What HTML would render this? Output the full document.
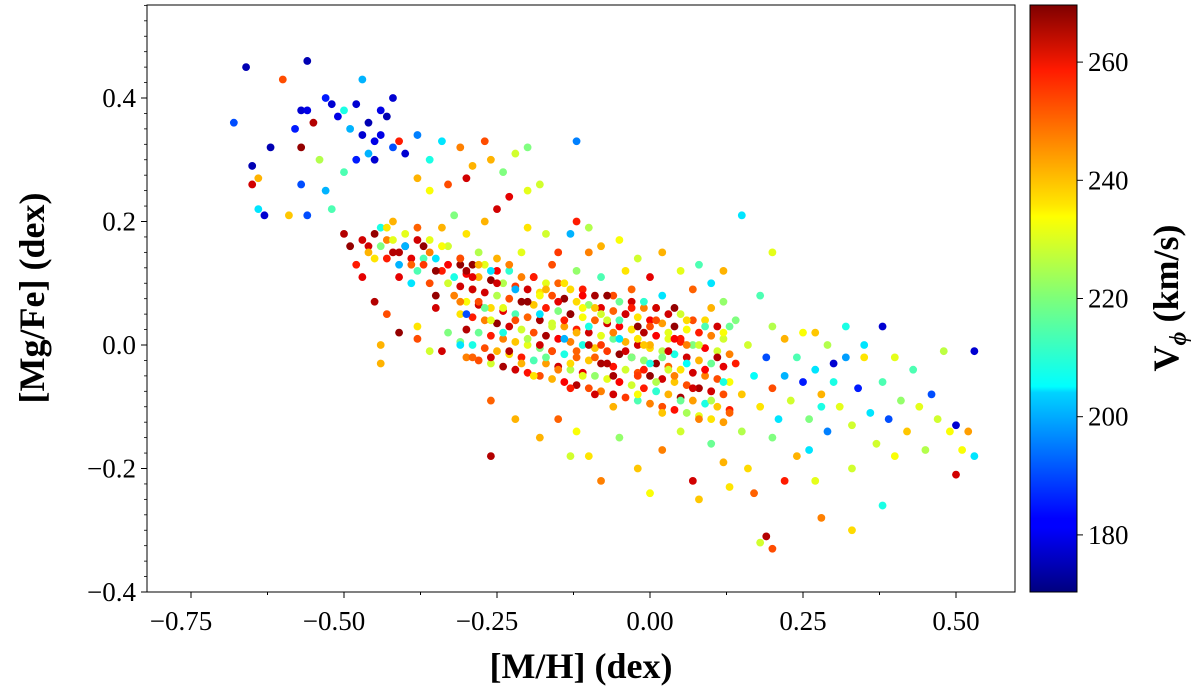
<!DOCTYPE html>
<html><head><meta charset="utf-8"><style>
body{margin:0;background:#fff}
svg{display:block;font-family:"Liberation Serif",serif}
</style></head><body>
<svg id="chart" width="1200" height="692" viewBox="0 0 1200 692" xmlns="http://www.w3.org/2000/svg">
<defs><linearGradient id="jet" x1="0" y1="1" x2="0" y2="0">
<stop offset="0" stop-color="#00007f"/><stop offset="0.11" stop-color="#0000ff"/><stop offset="0.125" stop-color="#0000ff"/><stop offset="0.34" stop-color="#00d4ff"/><stop offset="0.35" stop-color="#0ff"/><stop offset="0.5" stop-color="#7dff7a"/><stop offset="0.64" stop-color="#ff0"/><stop offset="0.66" stop-color="#ffe600"/><stop offset="0.89" stop-color="#ff1a00"/><stop offset="1" stop-color="#7f0000"/>
</linearGradient></defs>
<g id="points"></g>
<rect x="147" y="5" width="868" height="587" fill="none" stroke="#000" stroke-width="1"/>
<g id="xaxis"></g>
<g id="yaxis"></g>
<text x="581" y="678" font-size="36" font-weight="bold" text-anchor="middle">[M/H] (dex)</text>
<text transform="translate(44,298) rotate(-90)" font-size="36" font-weight="bold" text-anchor="middle">[Mg/Fe] (dex)</text>
<rect x="1030" y="5" width="47" height="587" fill="url(#jet)" stroke="#000" stroke-width="1"/>
<g id="cbaxis"></g>
<text transform="translate(1178,298) rotate(-90)" font-size="36" font-weight="bold" text-anchor="middle">V<tspan font-size="24" dy="8" font-style="italic">ϕ</tspan><tspan dy="-8"> (km/s)</tspan></text>
</svg>
<script>
const mh=[-0.66,-0.56,-0.68,-0.65,-0.64,-0.63,-0.62,-0.60,-0.58,-0.57,-0.56,-0.55,-0.57,-0.57,-0.56,-0.53,-0.52,-0.51,-0.50,-0.49,-0.48,-0.47,-0.47,-0.46,-0.45,-0.45,-0.44,-0.43,-0.42,-0.42,-0.44,-0.46,-0.48,-0.50,-0.52,-0.53,-0.54,-0.40,-0.41,-0.38,-0.36,-0.34,-0.31,-0.29,-0.27,-0.26,-0.24,-0.22,-0.20,-0.12,-0.18,-0.20,-0.23,-0.30,-0.33,-0.36,-0.38,-0.59,-0.65,-0.64,
-0.50,-0.49,-0.48,-0.47,-0.46,-0.45,-0.44,-0.43,-0.42,-0.42,-0.41,-0.40,-0.40,-0.39,-0.38,-0.38,-0.37,-0.36,-0.36,-0.35,-0.34,-0.34,-0.33,-0.32,-0.32,-0.31,-0.30,-0.30,-0.29,-0.28,-0.28,-0.27,-0.26,-0.26,-0.41,-0.43,-0.44,-0.45,-0.38,-0.35,-0.33,-0.31,-0.29,-0.34,
-0.25,-0.24,-0.24,-0.23,-0.23,-0.22,-0.22,-0.21,-0.21,-0.20,-0.20,-0.19,-0.19,-0.18,-0.18,-0.17,-0.17,-0.16,-0.16,-0.15,-0.15,-0.14,-0.14,-0.13,-0.13,-0.12,-0.12,-0.11,-0.11,-0.10,-0.10,-0.09,-0.09,-0.08,-0.08,-0.07,-0.07,-0.06,-0.06,-0.05,-0.05,-0.04,-0.04,-0.03,-0.03,-0.02,-0.02,-0.01,-0.01,0.00,0.00,0.01,0.01,0.02,0.02,0.03,0.03,0.04,0.04,0.05,0.05,0.06,0.06,0.07,0.07,0.08,0.08,0.09,0.09,0.10,0.10,0.11,0.12,0.12,0.13,0.14,0.14,0.15,
-0.14,-0.12,-0.10,-0.08,-0.06,-0.04,-0.02,0.00,0.02,0.04,-0.11,-0.09,-0.07,-0.05,-0.03,-0.01,0.01,0.03,-0.16,-0.13,-0.06,0.00,0.06,-0.18,-0.02,
-0.18,-0.15,-0.12,-0.10,-0.05,-0.02,0.02,0.05,0.07,0.10,0.12,0.13,0.15,0.17,0.18,0.19,0.20,0.16,0.08,0.00,-0.08,-0.13,-0.26,-0.26,-0.22,0.22,0.24,0.28,0.27,0.33,0.20,
0.16,0.17,0.18,0.18,0.19,0.20,0.20,0.21,0.22,0.22,0.23,0.24,0.25,0.25,0.26,0.27,0.28,0.29,0.29,0.30,0.31,0.32,0.32,0.33,0.34,0.35,0.36,0.37,0.38,0.38,0.39,0.40,0.41,0.42,0.43,0.44,0.45,0.46,0.47,0.48,0.49,0.50,0.50,0.51,0.52,0.53,0.53,0.38,0.33,0.26,0.15,0.12,0.20,0.27,0.30,0.35,0.40,0.28,
-0.25,-0.20,-0.17,-0.15,-0.12,-0.10,-0.08,-0.05,-0.02,0.02,0.05,0.08,0.10,0.12,-0.13,
-0.44,-0.38,-0.26,-0.36,
-0.47,-0.46,-0.45,-0.44,-0.43,-0.42,-0.41,-0.40,-0.39,-0.38,-0.37,-0.36,-0.35,-0.34,-0.33,-0.32,-0.31,-0.30,-0.29,-0.28,-0.43,-0.41,-0.39,-0.37,-0.35,-0.33,-0.31,-0.29,-0.27,-0.25];
const mgfe=[0.45,0.46,0.36,0.29,0.22,0.21,0.32,0.43,0.35,0.38,0.38,0.36,0.32,0.26,0.21,0.40,0.39,0.37,0.38,0.35,0.39,0.43,0.34,0.36,0.33,0.30,0.38,0.37,0.40,0.32,0.34,0.31,0.30,0.28,0.22,0.25,0.30,0.31,0.33,0.34,0.30,0.33,0.32,0.29,0.33,0.30,0.28,0.31,0.32,0.33,0.26,0.25,0.24,0.27,0.26,0.25,0.27,0.21,0.26,0.27,
0.18,0.16,0.13,0.11,0.16,0.14,0.19,0.17,0.15,0.20,0.13,0.18,0.16,0.14,0.19,0.12,0.16,0.17,0.10,0.14,0.19,0.12,0.16,0.21,0.08,0.13,0.18,0.05,0.11,0.15,0.07,0.20,0.12,0.04,0.02,0.05,0.00,0.07,0.03,0.06,0.02,0.00,-0.02,-0.01,
0.10,0.06,0.02,0.13,-0.01,0.09,0.04,0.15,-0.03,0.07,0.01,0.11,-0.05,0.05,0.00,0.09,-0.02,0.13,0.03,0.07,-0.04,0.01,0.10,-0.07,0.05,0.12,-0.01,0.08,-0.05,0.03,0.15,-0.08,0.06,0.00,0.11,-0.03,0.04,0.08,-0.10,0.01,-0.06,0.12,0.05,-0.02,0.09,-0.08,0.03,0.07,-0.04,0.00,0.11,-0.06,0.04,-0.11,0.08,-0.01,0.02,-0.05,0.06,-0.09,0.01,0.04,-0.03,0.09,-0.07,0.00,-0.12,0.03,-0.04,0.06,-0.09,-0.02,0.02,-0.06,-0.11,0.04,-0.03,-0.08,
0.04,0.02,0.00,0.05,0.02,-0.01,0.01,0.03,-0.02,0.01,0.06,-0.02,0.08,0.04,0.06,0.00,0.06,-0.04,-0.01,-0.03,-0.05,-0.03,0.00,0.08,-0.05,
-0.15,-0.12,-0.14,-0.18,-0.15,-0.20,-0.17,-0.14,-0.22,-0.16,-0.19,-0.23,-0.14,-0.24,-0.32,-0.31,-0.33,-0.20,-0.25,-0.24,-0.22,-0.18,-0.18,-0.09,-0.12,-0.22,-0.18,-0.28,-0.22,-0.30,-0.15,
0.00,-0.05,0.08,-0.10,-0.02,0.03,-0.07,-0.12,0.01,-0.05,-0.09,-0.02,-0.06,0.02,-0.12,-0.04,-0.08,-0.14,0.00,-0.06,-0.10,-0.02,0.03,-0.13,-0.07,-0.02,-0.11,-0.16,-0.06,0.03,-0.12,-0.18,-0.09,-0.14,-0.04,-0.10,-0.17,-0.08,-0.12,-0.01,-0.14,-0.21,-0.13,-0.17,-0.14,-0.01,-0.18,-0.26,-0.20,-0.17,0.21,0.07,0.15,0.02,-0.03,0.00,-0.02,-0.10,
0.22,0.19,0.18,0.15,0.20,0.19,0.16,0.17,0.14,0.15,0.12,0.13,0.10,0.12,0.18,
-0.03,0.01,-0.02,-0.01,
0.17,0.15,0.18,0.16,0.14,0.17,0.15,0.16,0.13,0.17,0.14,0.15,0.12,0.16,0.13,0.11,0.14,0.12,0.09,0.13,0.19,0.11,0.10,0.13,0.08,0.10,0.07,0.09,0.06,0.14];
const vphi=[175,175,190,175,205,178,175,250,185,178,180,265,268,190,190,185,178,180,210,200,178,200,178,175,180,178,180,175,178,190,180,200,185,215,215,200,225,178,255,195,210,205,245,240,250,240,220,228,220,195,228,230,260,262,250,232,240,238,262,240,
265,268,255,260,262,235,210,245,265,240,200,230,175,260,248,215,268,230,250,205,240,255,228,220,245,268,235,190,260,225,250,240,205,230,268,250,240,265,235,262,220,205,248,262,
262,230,210,245,265,200,250,230,240,268,225,255,235,205,262,240,218,250,228,260,245,200,235,255,268,222,248,258,230,210,245,262,238,252,215,265,228,250,240,205,258,235,262,220,248,232,268,212,255,240,260,225,250,238,205,262,230,245,268,218,255,236,208,248,262,228,245,215,258,240,225,265,232,210,248,220,255,238,
255,240,265,228,245,262,235,250,220,258,232,248,268,215,255,238,262,228,250,236,266,210,245,232,252,
240,248,232,235,222,238,245,228,262,218,240,235,225,248,228,265,250,236,238,232,245,228,265,248,240,255,240,245,230,236,220,
228,208,215,235,190,225,250,205,240,200,228,215,185,232,220,205,240,195,225,210,230,198,210,228,185,235,205,228,215,178,190,232,222,238,215,230,225,190,228,226,232,262,178,232,242,178,205,210,228,205,205,222,230,238,178,205,230,210,
262,235,228,252,255,225,240,232,228,240,230,215,205,240,200,
240,250,262,228,
262,240,268,220,255,230,265,200,248,262,215,245,268,232,258,210,250,266,225,240,235,260,205,252,268,228,245,262,218,240];
const clusterMh=[
-0.31,-0.31,-0.31,-0.31,-0.29,-0.29,-0.29,-0.29,-0.27,-0.27,-0.27,-0.27,-0.25,-0.25,-0.25,-0.25,-0.23,-0.23,-0.23,-0.23,-0.21,-0.21,-0.21,-0.21,-0.19,-0.19,-0.19,-0.19,-0.17,-0.17,-0.17,-0.17,-0.15,-0.15,-0.15,-0.15,-0.13,-0.13,-0.13,-0.13,-0.11,-0.11,-0.11,-0.11,-0.09,-0.09,-0.09,-0.09,-0.07,-0.07,-0.07,-0.07,-0.05,-0.05,-0.05,-0.05,-0.03,-0.03,-0.03,-0.03,-0.01,-0.01,-0.01,-0.01,0.01,0.01,0.01,0.01,0.03,0.03,0.03,0.03,0.05,0.05,0.05,0.05,0.07,0.07,0.07,0.07,0.09,0.09,0.09,0.09,0.11,0.11,0.11,0.11,0.13,0.13,0.13,0.13,
-0.30,-0.30,-0.30,-0.30,-0.28,-0.28,-0.28,-0.28,-0.26,-0.26,-0.26,-0.26,-0.24,-0.24,-0.24,-0.24,-0.22,-0.22,-0.22,-0.22,-0.20,-0.20,-0.20,-0.20,-0.18,-0.18,-0.18,-0.18,-0.16,-0.16,-0.16,-0.16,-0.14,-0.14,-0.14,-0.14,-0.12,-0.12,-0.12,-0.12,-0.10,-0.10,-0.10,-0.10,-0.08,-0.08,-0.08,-0.08,-0.06,-0.06,-0.06,-0.06,-0.04,-0.04,-0.04,-0.04,-0.02,-0.02,-0.02,-0.02,0.00,0.00,0.00,0.00,0.02,0.02,0.02,0.02,0.04,0.04,0.04,0.04,0.06,0.06,0.06,0.06,0.08,0.08,0.08,0.08,0.10,0.10,0.10,0.10,0.12,0.12,0.12,0.12];
const clusterMgfe=[
0.14,0.095,0.05,0.005,0.13,0.09,0.045,0.00,0.13,0.085,0.04,-0.005,0.12,0.08,0.035,-0.01,0.12,0.075,0.03,-0.015,0.11,0.07,0.025,-0.02,0.11,0.065,0.02,-0.025,0.10,0.06,0.015,-0.03,0.10,0.055,0.01,-0.035,0.09,0.05,0.005,-0.04,0.09,0.045,0.00,-0.045,0.08,0.04,-0.005,-0.05,0.08,0.035,-0.01,-0.055,0.07,0.03,-0.015,-0.06,0.07,0.025,-0.02,-0.065,0.06,0.02,-0.025,-0.07,0.06,0.015,-0.03,-0.075,0.05,0.01,-0.035,-0.08,0.05,0.005,-0.04,-0.085,0.04,0.00,-0.045,-0.09,0.04,-0.005,-0.05,-0.095,0.03,-0.01,-0.055,-0.10,0.03,-0.015,-0.06,-0.105,
0.115,0.07,0.025,-0.02,0.11,0.065,0.02,-0.025,0.105,0.06,0.015,-0.03,0.10,0.055,0.01,-0.035,0.095,0.05,0.005,-0.04,0.09,0.045,0.00,-0.045,0.085,0.04,-0.005,-0.05,0.08,0.035,-0.01,-0.055,0.075,0.03,-0.015,-0.06,0.07,0.025,-0.02,-0.065,0.065,0.02,-0.025,-0.07,0.06,0.015,-0.03,-0.075,0.055,0.01,-0.035,-0.08,0.05,0.005,-0.04,-0.085,0.045,0.00,-0.045,-0.09,0.04,-0.005,-0.05,-0.095,0.035,-0.01,-0.055,-0.10,0.03,-0.015,-0.06,-0.105,0.025,-0.02,-0.065,-0.11,0.02,-0.025,-0.07,-0.115,0.015,-0.03,-0.075,-0.12,0.01,-0.035,-0.08,-0.125];
const clusterVphi=[
250,262,235,220,268,240,255,210,230,262,245,250,258,225,268,240,212,250,262,236,245,268,228,255,262,238,250,215,230,255,266,242,248,220,258,262,236,268,245,225,255,232,210,260,266,248,238,222,240,262,252,230,218,258,268,245,262,235,250,228,245,265,222,255,238,258,268,212,262,230,248,240,228,255,235,266,250,220,262,242,236,258,245,210,262,228,250,238,218,245,232,255,
258,232,265,245,240,262,218,250,268,236,255,228,225,260,245,266,252,215,238,262,262,248,230,256,235,266,220,250,250,228,262,240,268,242,210,258,236,255,248,265,222,262,238,250,260,230,266,245,248,218,256,262,265,240,228,252,235,262,250,215,258,236,268,245,242,225,262,250,268,210,238,256,232,262,250,224,255,240,266,230,245,218,262,235,228,260,250,242];
const xTicks=[-0.75,-0.50,-0.25,0.00,0.25,0.50];
const yTicks=[0.4,0.2,0.0,-0.2,-0.4];
const cTicks=[180,200,220,240,260];
const NS='http://www.w3.org/2000/svg';
const X=v=>650+612*v, Y=v=>345-617.5*v, C=v=>594-5.91*(v-170);
function jet(t){t=Math.max(0,Math.min(1,t));
 const f=x=>Math.max(0,Math.min(1,x));
 const r=f(1.5-Math.abs(4*t-3)),g=f(1.5-Math.abs(4*t-2)),b=f(1.5-Math.abs(4*t-1));
 return `rgb(${Math.round(r*255)},${Math.round(g*255)},${Math.round(b*255)})`;}
function mk(tag,attrs,parent){const e=document.createElementNS(NS,tag);for(const k in attrs)e.setAttribute(k,attrs[k]);parent.appendChild(e);return e;}
const pg=document.getElementById('points');
function drawSet(xs,ys,vs){
 for(let i=0;i<xs.length;i++){
  const c=mk('circle',{cx:X(xs[i]),cy:Y(ys[i]),r:3.9,fill:jet((vs[i]-170)/100)},pg);
  
  
 }
}
drawSet(clusterMh,clusterMgfe,clusterVphi);
drawSet(mh,mgfe,vphi);
const fmt=v=>(v<0?'\u2212':'')+Math.abs(v).toFixed(2);
const xg=document.getElementById('xaxis');
xTicks.forEach(v=>{const x=X(v);
 mk('line',{x1:x,x2:x,y1:592,y2:598,stroke:'#000'},xg);
 const t=mk('text',{x:x-(v<0?10:0),y:630,'font-size':27,'text-anchor':'middle'},xg);t.textContent=fmt(v);
 
 
});
for(let v=-0.875;v<0.6;v+=0.125){const x=X(v);if(x>147&&x<1015)mk('line',{x1:x,x2:x,y1:592,y2:595,stroke:'#000'},xg);}
const yg=document.getElementById('yaxis');
yTicks.forEach(v=>{const y=Y(v);
 mk('line',{x1:141,x2:147,y1:y,y2:y,stroke:'#000'},yg);
 const t=mk('text',{x:136,y:y+9,'font-size':27,'text-anchor':'end'},yg);t.textContent=(v<0?'\u2212':'')+Math.abs(v).toFixed(1);
 
 
});
for(let v=-0.4;v<0.56;v+=0.025){const y=Y(v);if(y>5&&y<592)mk('line',{x1:144,x2:147,y1:y,y2:y,stroke:'#000','stroke-width':0.8},yg);}
const cg=document.getElementById('cbaxis');
cTicks.forEach(v=>{const y=C(v);
 mk('line',{x1:1077,x2:1083,y1:y,y2:y,stroke:'#000'},cg);
 const t=mk('text',{x:1088,y:y+9,'font-size':27},cg);t.textContent=v;
 
 
});
</script>
</body></html>
